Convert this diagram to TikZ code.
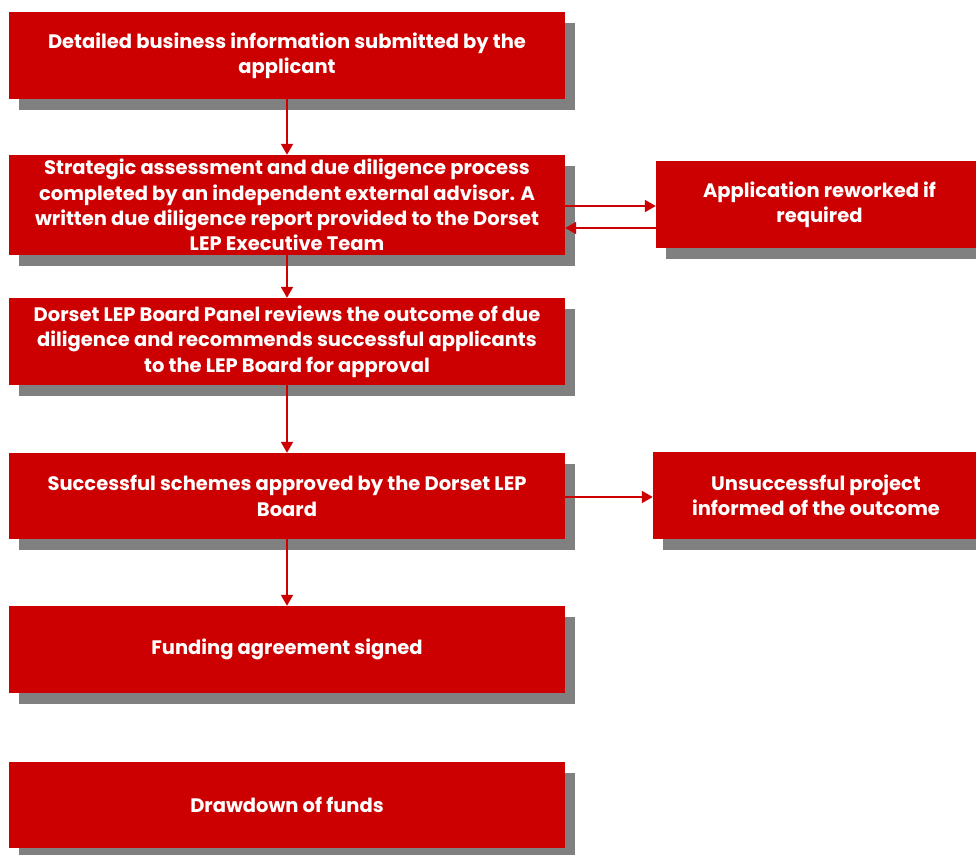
\documentclass[tikz,border=0pt]{standalone}
\usepackage{fontspec}
\setmainfont{Poppins}
\usetikzlibrary{arrows.meta,shadows,calc}
\definecolor{boxred}{HTML}{CC0000}
\definecolor{shadowgray}{HTML}{808080}
\begin{document}
\begin{tikzpicture}[x=1pt,y=-1pt,
  box/.style={rectangle, fill=boxred, draw=none, text=white, align=center,
    font=\fontsize{19.5}{25.3}\selectfont\bfseries,
    general shadow={fill=shadowgray, shadow xshift=10pt, shadow yshift=-11pt},
    inner sep=0pt},
  arr/.style={draw=boxred, line width=2pt, -{Triangle[length=11pt,width=12pt]}}
]
\useasboundingbox (0,0) rectangle (976,854);
\node[box, minimum width=556pt, minimum height=87pt] (b1) at (287,55.5)
  {Detailed business information submitted by the\\applicant};
\node[box, minimum width=556pt, minimum height=100pt] (b2) at (287,205)
  {Strategic assessment and due diligence process\\completed by an independent external advisor. A\\written due diligence report provided to the Dorset\\LEP Executive Team};
\node[box, minimum width=556pt, minimum height=87pt] (b3) at (287,341.5)
  {Dorset LEP Board Panel reviews the outcome of due\\diligence and recommends successful applicants\\to the LEP Board for approval};
\node[box, minimum width=556pt, minimum height=86pt] (b4) at (287,496)
  {Successful schemes approved by the Dorset LEP\\Board};
\node[box, minimum width=556pt, minimum height=87pt] (b5) at (287,649.5)
  {Funding agreement signed};
\node[box, minimum width=556pt, minimum height=86pt] (b6) at (287,805)
  {Drawdown of funds};
\node[box, minimum width=327pt, minimum height=87pt] (r1) at (819.5,204.5)
  {Application reworked if\\required};
\node[box, minimum width=326pt, minimum height=87pt] (r2) at (816,495.5)
  {Unsuccessful project\\informed of the outcome};
\draw[arr] (b1.south) -- (b2.north);
\draw[arr] (b2.south) -- (b3.north);
\draw[arr] (b3.south) -- (b4.north);
\draw[arr] (b4.south) -- (b5.north);
\coordinate (a1) at ($(b2.east)+(0,1)$);
\coordinate (a2) at ($(b2.east)+(0,23)$);
\draw[arr] (a1) -- (a1 -| r1.west);
\draw[arr] (a2 -| r1.west) -- (a2);
\coordinate (a3) at ($(b4.east)+(0,1)$);
\draw[arr] (a3) -- (a3 -| r2.west);
\end{tikzpicture}
\end{document}
